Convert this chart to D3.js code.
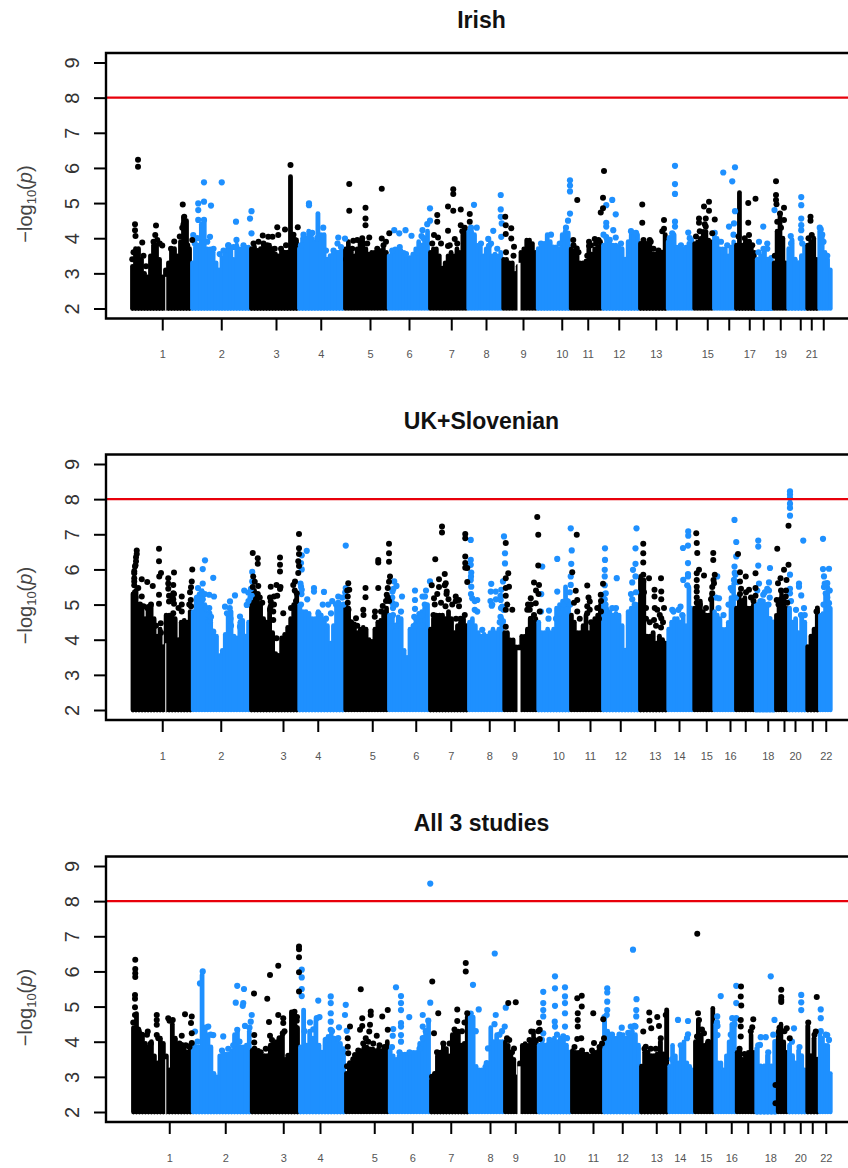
<!DOCTYPE html>
<html>
<head>
<meta charset="utf-8">
<script src="https://cdnjs.cloudflare.com/ajax/libs/d3/7.8.5/d3.min.js"></script>
<style>
  html, body { margin: 0; padding: 0; background: #fff; }
  svg { display: block; }
  text { font-family: "Liberation Sans", Arial, sans-serif; }
</style>
</head>
<body>
<div id="chart"></div>
<script>
var yTickValues = [2, 3, 4, 5, 6, 7, 8, 9];
var threshold = 8;

// genome position (Mb) where each chromosome starts, last one is the end
var irishStarts = [0, 240, 476, 668, 852, 1027, 1192, 1345, 1485, 1623, 1755, 1884, 2032, 2143, 2249, 2328, 2416, 2499, 2567, 2625, 2701, 2749, 2803];
var ukStarts = [2, 243, 476, 669, 853, 1028, 1192, 1348, 1489, 1625, 1756, 1884, 2032, 2145, 2249, 2329, 2416, 2495, 2576, 2628, 2701, 2752, 2803];
var allStarts = [0, 239, 475, 668, 852, 1027, 1192, 1347, 1488, 1623, 1756, 1884, 2032, 2145, 2248, 2329, 2415, 2493, 2579, 2624, 2697, 2747, 2799];

var irishTickPos = [125, 361, 580, 759, 956, 1112, 1281, 1420, 1568, 1723, 1827, 1951, 2099, 2181, 2305, 2391, 2473, 2529, 2597, 2677, 2721, 2769];
var ukTickPos = [125, 359, 608, 747, 965, 1139, 1279, 1433, 1533, 1709, 1836, 1957, 2095, 2192, 2301, 2396, 2457, 2547, 2612, 2656, 2725, 2779];
var allTickPos = [149, 373, 605, 752, 969, 1121, 1275, 1432, 1533, 1708, 1844, 1961, 2097, 2191, 2295, 2397, 2463, 2553, 2608, 2673, 2721, 2775];

var irishLabels = ['1','2','3','4','5','6','7','8','9','10','11','12','13','','15','','17','','19','','21',''];
var ukLabels = ['1','2','3','4','5','6','7','8','9','10','11','12','13','14','15','16','','18','','20','','22'];
var allLabels = ['1','2','3','4','5','6','7','8','9','10','11','12','13','14','15','16','','18','','20','','22'];

// upper edge of the solid mass of SNPs, column by column inside each chromosome
var irishTops = [
  [3.2,3.7,3.7,3.4,3.0,2.9,3.5,3.8,3.8,3.4,2.9,3.1,3.3,3.7,3.7,3.5,3.9,4.6,4.5,3.7],
  [3.3,3.75,3.8,4.4,4.5,3.7,3.7,3.6,3.3,3.1,3.45,3.6,3.75,3.75,3.4,3.8,3.7,3.7,3.75,3.75],
  [3.7,3.75,3.65,3.7,3.8,3.75,3.8,3.7,3.55,3.5,3.65,3.6,3.6,5.75,4.0,3.95],
  [3.7,4.0,4.0,4.2,4.0,3.9,4.7,4.1,4.1,3.4,3.5,3.55,3.6,3.6,3.7],
  [3.7,3.9,3.6,3.5,3.7,3.9,3.9,3.7,3.55,3.6,3.6,3.65,3.65,3.7,3.6],
  [3.5,3.65,3.7,3.7,3.65,3.6,3.45,3.45,3.55,3.7,3.9,3.8,4.0,4.2],
  [3.6,3.7,3.7,3.5,3.15,3.3,3.5,3.6,3.5,3.7,3.6,4.1,4.2],
  [4.2,4.2,4.1,3.8,3.75,3.5,3.7,3.7,3.5,3.55,3.5,3.6],
  [3.4,3.4,3.3,3.3,3.0,3.2,3.6,3.7,3.95,3.95,3.85,3.6],
  [3.7,3.75,3.85,4.1,3.9,3.75,3.75,3.7,4.1,4.2,4.15],
  [3.7,3.65,3.5,3.3,3.3,3.35,3.7,3.55,3.7,3.75,3.9],
  [3.8,4.05,3.85,3.8,3.8,3.75,3.7,3.4,3.9,4.1,4.15,4.1],
  [3.85,3.9,3.85,3.85,3.55,3.55,3.6,3.6,4.1],
  [3.9,3.9,4.1,3.75,3.7,3.7,3.75,3.85,3.95],
  [3.85,3.9,4.0,4.2,4.2,3.95,3.9],
  [4.05,4.0,3.7,3.7,3.7,3.5,3.75,3.9],
  [3.8,5.3,3.8,3.9,3.8,3.75,3.6],
  [3.4,3.5,3.6,3.4,3.45],
  [3.3,4.2,4.7,4.0,3.3],
  [3.7,3.95,3.4,3.3,3.5,3.8],
  [3.8,3.9,4.0,3.4],
  [4.2,4.1,3.6,3.4,3.1]
];
var irishBlack = [
  [28,6.23],[28,6.03],[16,4.4],[16,4.23],[18,4.06],[45,3.88],[100,4.36],[97,4.09],[125,3.79],[173,3.91],[207,4.96],[213,4.61],[245,3.95],
  [5,3.4],[10,3.6],[50,3.5],[60,3.2],[90,3.9],[105,3.95],[115,3.85],[160,3.7],[195,4.05],[205,4.3],[210,4.4],[225,3.8],
  [638,6.08],[527,4.08],[549,4.04],[566,4.04],[585,4.31],[589,4.09],[616,4.25],[667,4.31],
  [490,3.85],[510,3.9],[530,3.85],[545,3.8],[575,3.7],[600,3.7],[620,3.8],[650,4.1],[655,3.95],
  [873,5.54],[873,4.78],[938,4.87],[938,4.56],[938,4.37],[1003,5.41],[1033,4.14],[889,3.93],[953,4.02],[1003,3.99],[1020,3.9],
  [860,3.4],[885,3.7],[905,3.95],[925,4.0],[945,3.85],[985,3.7],[1010,3.8],
  [1289,5.39],[1289,5.26],[1268,4.9],[1289,4.78],[1319,4.82],[1225,4.66],[1225,4.47],[1355,4.69],[1355,4.47],[1268,4.21],[1212,4.09],[1228,4.02],[1295,3.98],[1268,3.78],[1319,4.37],
  [1205,3.85],[1240,3.85],[1275,3.8],[1305,3.85],[1325,4.2],[1335,4.3],
  [1497,4.61],[1499,4.37],[1499,4.12],[1521,4.28],[1521,3.99],[1532,3.76],[1500,3.6],[1530,3.5],
  [1769,3.95],[1785,5.09],[1892,5.91],[1888,5.15],[1879,4.73],[1888,4.85],[1855,3.98],[1832,3.9],[1832,3.78],[1783,3.71],[1825,3.5],
  [1770,3.8],[1790,3.6],[1840,3.8],[1860,3.85],[1870,3.95],
  [2045,4.96],[2045,4.44],[2132,4.52],[2132,4.27],[2079,3.9],[2050,3.95],[2075,3.95],[2090,3.7],[2110,3.65],[2125,4.2],
  [2312,5.04],[2292,4.9],[2312,4.78],[2272,4.56],[2299,4.56],[2272,4.44],[2335,4.53],[2299,4.33],[2325,4.14],[2260,4.05],[2275,4.2],[2295,4.4],
  [2469,5.0],[2498,5.12],[2469,4.44],[2472,4.09],[2472,3.9],[2430,4.05],[2455,4.0],[2485,3.8],
  [2580,5.62],[2580,5.23],[2580,5.09],[2582,4.97],[2596,4.7],[2612,4.87],[2585,4.47],[2612,4.52],[2575,3.5],[2600,4.3],
  [2718,4.61],[2718,4.5],[2723,4.09],[2710,4.0]
];
var irishBlue = [
  [292,5.59],[363,5.59],[269,4.99],[292,5.04],[320,4.93],[269,4.8],[292,4.52],[269,4.52],[316,4.04],[249,4.09],[482,4.77],[476,4.56],[482,4.14],[420,4.47],[422,3.95],[389,3.8],
  [255,3.85],[265,4.0],[305,3.9],[330,3.7],[355,3.55],[370,3.65],[390,3.8],[410,3.75],[450,3.8],
  [712,4.99],[712,4.94],[829,4.02],[856,3.99],[826,3.85],[769,4.3],
  [680,3.8],[690,4.1],[725,4.15],[745,4.0],[780,3.65],[810,3.65],[840,3.75],
  [1053,4.23],[1073,4.14],[1098,4.23],[1122,4.07],[1166,4.23],[1162,4.06],[1196,4.85],[1196,4.5],[1158,3.78],
  [1045,3.65],[1075,3.75],[1100,3.55],[1145,3.6],[1170,4.0],[1185,4.4],
  [1372,4.95],[1383,4.3],[1479,5.23],[1479,4.82],[1479,4.61],[1483,4.42],[1481,4.04],[1449,4.21],[1429,3.98],[1432,3.78],
  [1360,4.3],[1400,3.85],[1440,3.85],[1465,3.7],
  [1756,5.65],[1756,5.5],[1756,5.33],[1756,4.7],[1748,4.5],[1640,3.85],[1680,4.1],[1715,3.85],[1740,4.3],
  [1925,5.09],[1901,4.94],[1939,4.68],[1901,4.44],[1901,4.33],[1929,4.23],[1939,4.02],[1901,4.02],
  [1890,4.1],[1915,3.95],[1960,3.85],[2000,4.2],[2020,4.15],
  [2176,6.06],[2176,5.54],[2176,5.26],[2176,4.47],[2176,4.33],[2229,4.16],[2165,4.14],[2155,4.0],[2200,3.8],[2235,4.0],
  [2369,5.87],[2405,5.62],[2416,6.02],[2416,4.77],[2392,4.33],[2412,4.42],[2335,4.15],[2360,3.9],[2385,3.8],[2410,4.1],
  [2529,4.33],[2512,3.9],[2545,3.85],[2545,3.7],[2510,3.6],[2530,3.7],
  [2681,5.17],[2681,4.94],[2681,4.56],[2681,4.37],[2681,4.23],[2679,3.99],[2639,4.06],[2574,4.8],[2640,3.85],[2685,3.85],
  [2759,4.25],[2765,4.1],[2755,4.3],[2770,3.9],[2785,3.5]
];

var ukTops = [
  [5.3,5.4,5.0,4.9,4.6,4.95,4.95,4.6,4.1,4.3,3.8,4.7,4.7,4.7,4.6,4.0,4.5,4.55,4.5,4.8],
  [4.8,5.2,5.3,5.4,5.0,4.6,4.5,4.15,4.1,3.55,3.7,4.15,4.7,4.8,4.1,4.05,4.5,4.55,4.1,4.5],
  [5.3,5.4,5.1,5.0,4.6,4.5,4.9,4.2,3.6,3.55,4.05,4.15,4.35,4.6,5.0,5.3],
  [5.0,4.8,4.8,4.75,4.6,4.6,4.8,4.7,4.5,4.4,3.9,4.4,5.0,5.0,4.9],
  [5.0,4.9,4.5,4.45,4.2,4.3,4.35,4.3,4.0,3.95,4.3,4.5,4.55,4.8,4.9],
  [4.7,4.7,4.4,4.65,4.6,3.7,3.5,4.3,4.4,4.5,4.75,4.8,4.9,5.0],
  [4.3,4.6,4.7,4.7,4.7,4.6,4.8,4.6,4.2,4.4,4.5,4.6,4.4],
  [4.5,4.6,4.4,4.2,4.1,4.15,4.1,4.2,4.3,4.2,4.3,4.6],
  [4.2,4.2,4.0,4.0,3.8,3.8,4.1,4.1,4.3,4.6,4.5,4.6],
  [4.5,4.2,4.2,4.3,4.2,4.3,4.9,5.0,5.1,5.5,5.1],
  [4.7,4.5,4.2,4.2,4.4,4.7,4.2,4.5,4.6,4.7,5.0],
  [5.3,4.9,4.8,4.7,4.75,4.7,4.4,3.7,4.8,4.9,5.0,5.0],
  [5.8,5.7,4.1,4.1,4.2,3.9,4.1,4.0,3.9],
  [4.3,4.5,4.6,4.6,4.5,4.7,4.4,5.5,4.9],
  [4.9,5.0,5.1,4.8,4.7,4.7,5.3],
  [4.8,4.7,4.6,4.3,4.3,4.5,5.2,5.6],
  [4.9,5.2,5.1,5.2,4.9,4.9,5.0],
  [5.0,5.1,5.1,5.0,4.6,4.5],
  [4.7,5.0,5.4,5.2,4.9],
  [4.9,4.5,4.6,4.2,4.7,4.5],
  [3.8,4.1,4.3,4.9],
  [4.7,4.75,5.3,5.5,4.9]
];
var ukBlack = [
  [23,6.54],[23,6.44],[20,6.23],[16,6.08],[13,5.89],[13,5.75],[13,5.66],[43,5.72],[65,5.64],[87,5.53],[29,5.47],[112,6.59],[112,6.23],[120,5.9],[113,5.8],[149,5.75],[172,5.91],[149,5.6],[169,5.56],[169,5.32],[112,5.28],[112,5.02],[152,5.09],[172,5.02],[203,5.23],[203,5.0],[169,4.75],[119,4.47],[245,6.0],[243,5.66],[240,5.49],[239,5.13],[43,5.23],
  [13,5.95],[13,5.55],[16,5.35],[18,5.2],[20,6.35],[18,6.12],[36,5.0],[50,4.95],[65,4.9],[80,5.0],[100,4.4],[120,4.2],[149,5.45],[152,5.25],[165,5.2],[172,5.3],[169,5.15],[190,4.9],[203,4.8],[236,5.35],[233,5.0],[240,4.95],
  [487,6.47],[507,6.32],[507,6.16],[489,5.8],[509,5.53],[559,5.51],[596,6.34],[596,6.13],[596,5.94],[596,5.44],[582,5.56],[572,5.23],[559,5.09],[556,4.85],[569,4.56],[609,4.75],[582,4.04],[672,7.01],[672,6.6],[672,6.44],[669,6.23],[656,5.66],[649,5.56],[663,5.32],
  [487,5.5],[495,5.65],[507,5.3],[500,5.15],[515,5.2],[525,5.05],[556,5.2],[559,4.95],[569,4.8],[572,5.0],[585,5.25],[598,5.5],[640,4.9],[655,5.4],[660,5.1],[669,5.9],[672,6.1],
  [869,5.61],[873,5.42],[867,5.23],[867,4.61],[938,5.47],[938,5.21],[929,4.85],[989,6.27],[989,6.2],[989,5.47],[976,4.8],[1007,4.96],[1032,6.73],[1032,6.46],[1032,6.22],[1036,5.8],[1027,5.47],[1023,5.28],[900,4.61],
  [865,5.4],[867,5.05],[870,4.85],[880,4.5],[905,4.4],[930,4.7],[975,4.65],[1000,4.8],[1020,5.1],[1027,5.2],[1032,5.65],[1032,5.1],
  [1244,7.22],[1244,7.05],[1217,6.29],[1203,5.55],[1232,5.72],[1255,5.87],[1259,5.61],[1263,5.37],[1212,5.18],[1299,5.23],[1312,5.13],[1337,7.01],[1337,6.89],[1337,6.37],[1337,6.18],[1345,6.04],[1345,5.64],
  [1215,5.0],[1225,5.3],[1232,5.5],[1240,5.05],[1255,5.55],[1262,5.3],[1258,4.95],[1270,5.15],[1285,5.0],[1299,5.1],[1312,4.95],[1318,4.6],[1300,4.6],[1210,4.7],[1335,4.7],[1337,6.05],
  [1499,6.75],[1509,5.89],[1499,5.75],[1512,5.51],[1499,5.47],[1525,4.85],[1499,4.85],[1499,4.37],[1599,5.18],[1625,7.49],[1629,6.99],[1629,6.11],[1612,5.63],[1632,5.56],[1588,5.0],[1585,4.85],[1619,5.04],
  [1499,5.25],[1505,5.0],[1595,4.85],[1600,5.0],[1612,4.7],[1620,5.4],[1630,5.3],[1635,4.8],[1600,4.6],
  [1783,6.99],[1765,5.92],[1779,5.39],[1785,5.13],[1825,5.54],[1835,5.09],[1825,4.75],[1879,5.28],[1888,5.59],
  [1772,5.05],[1785,4.8],[1830,5.2],[1835,4.85],[1825,4.95],[1795,4.6],[1865,4.9],[1880,5.1],[1880,4.8],[1872,4.6],[1840,4.5],
  [2049,6.73],[2049,6.46],[2049,6.2],[2049,5.85],[2072,5.75],[2120,5.75],[2094,5.42],[2121,5.37],[2094,5.23],[2121,5.15],[2092,4.56],[2132,4.9],[2121,4.61],[2105,4.85],
  [2045,5.5],[2049,5.65],[2052,5.35],[2060,4.6],[2060,4.9],[2075,4.5],[2095,4.9],[2100,4.4],[2120,4.35],[2128,4.5],[2115,4.7],
  [2261,7.03],[2263,6.75],[2265,6.47],[2272,5.99],[2263,5.89],[2292,5.83],[2263,5.7],[2263,5.51],[2263,5.37],[2329,6.47],[2329,6.27],[2335,5.85],[2332,5.61],[2325,5.32],
  [2263,5.2],[2263,5.05],[2275,5.0],[2300,4.9],[2320,5.15],[2325,5.5],[2330,5.7],
  [2428,6.44],[2436,5.92],[2459,5.8],[2436,5.66],[2498,5.89],[2498,5.47],[2472,5.42],
  [2436,5.3],[2447,5.1],[2440,5.45],[2460,5.35],[2480,5.2],[2490,5.1],[2498,5.25],
  [2630,7.24],[2585,6.59],[2630,6.13],[2612,5.99],[2598,5.75],[2588,5.61],[2583,5.13],[2622,5.7],[2619,5.23],[2742,4.8],
  [2590,5.0],[2600,5.15],[2610,5.1],[2620,5.4],[2625,5.05],[2600,5.4]
];
var ukBlue = [
  [296,6.26],[287,6.01],[329,5.76],[268,5.47],[287,5.6],[313,5.28],[332,5.23],[313,4.9],[313,4.75],[316,4.56],[329,4.23],[416,5.26],[396,5.09],[376,4.94],[453,5.4],[469,5.34],[485,5.93],[485,5.66],[463,4.99],[436,4.66],[436,4.37],
  [265,5.2],[275,5.1],[283,5.35],[287,5.15],[295,5.3],[300,4.9],[310,4.7],[320,4.65],[395,4.9],[398,4.6],[384,4.75],[400,4.4],[440,4.5],[440,4.3],[470,5.1],[478,5.2],[480,5.45],[483,5.25],
  [683,6.4],[680,6.18],[683,6.0],[703,6.53],[680,5.51],[683,5.42],[705,5.15],[732,5.47],[732,5.37],[772,5.36],[859,6.68],[859,5.47],[859,5.23],[767,5.0],[789,5.0],[829,5.23],
  [678,5.6],[682,5.3],[680,5.0],[805,5.1],[820,5.0],[829,5.05],[835,4.9],[845,5.2],[850,5.0],[857,5.35],[800,4.75],[780,4.6],[750,4.75],
  [1053,5.66],[1062,5.53],[1046,5.37],[1046,5.04],[1084,5.23],[1136,5.4],[1136,5.13],[1136,4.88],[1166,5.23],[1162,4.68],[1042,4.37],[1196,5.66],[1176,5.23],
  [1045,5.2],[1050,5.45],[1060,5.0],[1048,4.9],[1048,4.7],[1060,4.4],[1080,4.8],[1133,4.65],[1136,4.4],[1140,4.6],[1165,4.4],[1175,5.0],[1180,5.4],
  [1359,6.84],[1359,6.27],[1359,6.13],[1361,5.91],[1359,5.7],[1361,5.51],[1365,5.18],[1385,5.13],[1385,4.8],
  [1441,5.59],[1439,5.37],[1459,5.37],[1443,4.97],[1481,5.42],[1488,5.66],[1479,5.13],[1492,6.94],[1496,6.46],[1496,6.17],[1485,4.94],[1488,4.52],[1405,4.28],
  [1360,5.8],[1360,5.3],[1375,5.1],[1375,4.85],[1438,5.1],[1445,5.0],[1460,5.15],[1478,5.25],[1480,4.9],[1478,4.65],[1490,4.85],[1475,4.5],
  [1645,6.08],[1641,5.3],[1672,4.83],[1705,6.3],[1705,5.37],[1708,4.83],[1759,7.17],[1763,6.54],[1761,6.16],[1759,5.8],[1759,5.56],
  [1670,4.6],[1640,4.8],[1700,4.6],[1715,4.75],[1730,5.0],[1745,5.1],[1755,5.35],[1757,5.0],[1745,4.85],
  [1896,6.6],[1896,6.27],[1895,5.99],[1895,5.8],[1943,5.75],[2022,7.17],[2018,6.6],[2018,6.16],[2008,5.99],[2005,5.63],[2018,5.8],[1899,5.32],
  [1895,5.55],[1895,5.15],[1898,5.0],[1940,4.9],[1945,4.65],[2000,5.3],[2005,5.15],[2015,5.0],[2020,5.35],[1925,4.9],
  [2229,7.08],[2229,6.96],[2208,6.61],[2228,6.68],[2228,6.18],[2228,5.87],[2209,5.7],[2165,4.85],[2198,4.94],
  [2170,4.8],[2190,4.85],[2225,5.55],[2228,5.8],[2205,4.7],
  [2414,7.41],[2421,6.78],[2421,6.37],[2414,6.08],[2418,5.85],[2425,5.64],[2345,5.8],[2399,5.47],[2352,5.18],
  [2340,5.2],[2350,4.9],[2370,4.7],[2390,5.0],[2405,5.4],[2412,5.7],[2420,5.2],[2415,5.9],
  [2509,6.82],[2509,6.65],[2509,6.11],[2556,6.04],[2552,5.63],[2552,5.4],[2529,5.28],
  [2505,5.4],[2512,5.6],[2520,5.1],[2535,5.35],[2550,5.0],[2555,5.2],[2545,5.45],
  [2636,8.22],[2636,8.13],[2636,8.03],[2636,7.87],[2636,7.75],[2636,7.53],[2689,6.82],[2636,5.85],[2672,5.6],[2672,5.51],[2681,5.26],[2636,5.32],[2692,4.9],
  [2636,5.45],[2640,5.1],[2660,4.85],[2680,4.7],[2695,4.7],
  [2768,6.87],[2768,6.01],[2792,6.02],[2772,5.8],[2785,5.61],[2779,5.32],[2792,5.04],
  [2772,5.5],[2775,5.6],[2785,5.2],[2795,5.4],[2790,4.9],[2770,5.0]
];

var allTops = [
  [4.4,4.8,4.3,4.2,3.95,3.85,4.0,3.6,3.4,4.1,3.95,3.6,3.2,4.5,4.1,3.9,3.85,3.85,3.7,3.9],
  [3.85,3.85,3.85,5.9,4.3,4.2,3.85,3.1,3.0,3.6,3.7,3.65,3.65,3.75,4.2,4.3,3.85,3.85,3.9,4.3],
  [3.75,3.75,3.75,3.6,3.6,3.6,3.9,3.95,4.0,4.0,4.2,3.5,3.5,4.85,4.85,4.4],
  [3.85,4.9,3.9,4.3,4.1,4.6,3.9,3.7,4.0,4.15,4.2,4.1,4.0,3.95,3.8],
  [3.1,3.3,3.4,3.6,3.65,3.75,3.85,3.85,3.8,3.8,3.75,3.8,3.75,3.8,4.0],
  [3.75,3.6,3.5,3.6,3.65,3.65,3.65,3.7,3.7,3.7,3.95,4.1,4.3,4.6],
  [2.9,3.1,3.6,3.7,3.9,3.8,3.6,4.2,4.3,4.3,3.9,3.95,4.7],
  [4.7,4.7,3.3,3.2,3.2,3.3,3.3,4.4,4.0,4.2,4.0,4.0],
  [4.0,3.9,3.6,3.5,3.0,3.4,3.9,3.95,3.9,4.0,4.3,4.0],
  [3.9,3.95,3.9,3.95,3.95,4.1,4.0,4.1,4.1,3.9,3.7],
  [3.75,3.7,3.7,3.7,3.65,3.65,3.6,3.65,3.7,3.75,3.9],
  [4.6,4.3,4.1,4.1,4.1,4.2,4.2,4.1,4.2,4.3,4.2,3.9],
  [3.3,3.7,3.7,3.6,3.6,3.65,4.0,3.65,4.9],
  [3.3,3.9,3.6,3.4,3.85,4.0,3.4,3.3,3.2],
  [4.0,4.6,4.2,3.9,3.95,3.95,4.95],
  [4.5,3.4,3.4,3.2,3.6,4.0,4.5,4.6],
  [3.7,3.8,3.5,3.6,3.7,4.2,3.7],
  [3.8,3.3,3.3,3.6,3.3,4.0],
  [4.3,4.5,4.0,3.7],
  [3.9,3.6,3.4,3.75,3.6,3.2],
  [4.45,3.6,4.1,3.5],
  [4.2,4.1,3.9,3.9,3.1]
];
var allBlack = [
  [13,6.33],[13,6.07],[13,5.95],[13,5.84],[12,5.33],[12,5.22],[12,4.98],[12,4.76],[63,4.29],[99,4.76],[99,4.62],[99,4.48],[99,4.19],[145,4.67],[163,4.62],[212,4.78],[239,4.72],[236,4.53],[239,4.24],[239,3.96],[199,4.17],[199,3.91],
  [5,4.55],[25,4.35],[40,4.2],[60,4.2],[75,3.95],[105,4.1],[120,3.9],[150,4.6],[170,4.05],[190,3.95],[215,3.9],[230,3.85],
  [488,5.37],[552,5.9],[585,6.16],[541,5.22],[585,4.76],[605,4.67],[605,4.53],[548,4.56],[489,4.19],[489,3.98],[552,4.17],[603,4.24],[668,6.71],[668,6.63],[668,6.4],[668,5.98],[668,5.43],[659,4.6],[652,4.43],
  [490,3.8],[515,3.7],[535,3.8],[560,4.05],[590,4.1],[610,4.3],[625,3.6],[650,4.85],[660,4.7],
  [863,4.1],[863,3.86],[865,3.67],[872,4.43],[915,5.49],[955,4.86],[955,4.76],[921,4.67],[921,4.45],[952,4.48],[949,4.29],[912,4.34],[1001,4.72],[1023,4.9],[1023,4.34],[979,4.17],[935,4.1],[892,3.62],[872,3.39],
  [860,3.3],[885,3.5],[905,3.75],[925,3.95],[945,4.0],[965,3.95],[990,3.9],[1010,3.85],
  [1201,5.71],[1225,4.81],[1301,4.92],[1301,4.59],[1335,6.24],[1335,6.0],[1341,4.81],[1208,4.24],
  [1200,3.0],[1220,3.7],[1245,3.95],[1270,3.95],[1290,4.35],[1320,4.3],[1330,4.55],
  [1505,5.1],[1535,5.12],[1509,4.05],[1528,3.81],[1597,4.29],[1628,4.54],[1631,4.34],[1631,4.08],
  [1500,4.1],[1520,3.7],[1590,4.05],[1610,4.05],[1625,4.3],
  [1781,5.24],[1799,5.31],[1799,5.0],[1783,4.81],[1783,4.62],[1783,4.43],[1781,4.08],[1797,4.1],[1845,4.81],[1848,3.96],[1885,4.64],[1888,4.1],
  [1770,3.85],[1800,3.75],[1840,3.75],[1870,3.85],[1880,3.95],
  [2069,4.83],[2070,4.6],[2045,4.29],[2077,4.38],[2101,4.7],[2108,4.45],[2135,4.76],[2055,3.86],[2050,3.8],[2075,3.8],[2095,3.8],[2115,4.1],
  [2261,7.07],[2264,4.81],[2268,4.62],[2288,4.24],[2260,4.15],[2280,4.35],[2305,4.0],
  [2436,5.57],[2435,5.29],[2437,5.03],[2435,4.62],[2435,4.43],[2435,4.15],[2485,4.64],[2481,4.41],[2430,3.8],[2450,3.65],[2475,4.3],
  [2597,5.48],[2597,5.27],[2597,5.19],[2597,5.13],[2619,4.38],[2631,4.1],[2574,2.77],[2574,2.25],[2590,4.4],[2610,4.3],
  [2739,5.27],[2735,4.29],[2705,4.55],[2730,4.2]
];
var allBlue = [
  [283,6.0],[272,5.66],[252,4.29],[305,4.43],[325,4.19],[365,4.15],[421,5.59],[448,5.5],[415,5.11],[445,5.1],[443,5.02],[421,4.34],[452,4.45],[479,4.76],[475,4.57],
  [245,3.9],[262,4.0],[295,4.4],[315,4.2],[360,3.75],[385,3.8],[405,3.9],[430,4.0],[470,4.4],
  [679,6.05],[679,5.83],[679,5.5],[679,5.3],[745,5.17],[795,5.29],[795,5.1],[795,4.81],[795,4.57],[795,4.34],[712,4.55],[739,4.67],[855,5.05],[852,4.76],[828,4.41],[859,4.31],
  [690,4.3],[725,4.35],[750,4.7],[775,4.05],[800,4.3],[825,4.1],
  [1056,5.55],[1076,5.3],[1076,5.1],[1076,4.9],[1076,4.53],[1076,4.43],[1076,4.19],[1076,4.0],[1045,4.36],[1043,4.17],[1109,4.7],[1163,4.76],[1163,4.43],[1163,4.1],[1193,5.11],[1193,8.5],
  [1040,3.85],[1070,3.7],[1110,3.7],[1150,3.8],[1175,4.3],[1185,4.6],
  [1364,5.62],[1387,4.92],[1451,6.51],[1455,4.76],[1495,4.97],[1491,4.43],[1424,3.81],[1419,3.39],
  [1355,4.8],[1375,4.3],[1450,4.5],[1470,4.2],[1480,4.3],
  [1692,5.86],[1692,5.52],[1692,5.02],[1645,5.42],[1645,5.1],[1645,4.9],[1645,4.72],[1691,4.57],[1692,4.43],[1732,5.55],[1732,5.29],[1732,5.1],[1732,4.81],[1732,4.43],[1645,4.24],
  [1640,4.05],[1670,4.05],[1700,4.2],[1725,4.15],[1740,4.1],
  [1901,5.52],[1901,5.4],[1901,5.14],[1901,4.9],[1899,4.76],[1959,4.4],[2004,6.62],[2018,5.21],[2017,4.9],[2017,4.72],[2014,4.43],[1995,4.43],
  [1890,4.7],[1920,4.2],[1950,4.2],[1985,4.25],[2010,4.45],
  [2184,4.62],[2224,4.59],[2224,4.21],[2160,3.5],[2195,3.9],[2220,4.1],
  [2355,5.3],[2341,4.72],[2342,4.45],[2342,4.19],[2417,5.59],[2417,5.1],[2417,4.67],[2401,4.67],[2340,4.55],[2395,4.2],[2410,4.5],
  [2555,5.86],[2570,4.62],[2515,4.13],[2535,4.13],[2512,3.91],[2505,3.9],[2545,3.7],[2565,4.2],
  [2677,5.33],[2677,5.12],[2677,4.9],[2648,4.38],[2640,4.0],[2670,3.85],
  [2755,4.92],[2755,4.67],[2781,4.19],[2788,4.05],[2755,4.3],[2775,4.2]
];

// white slits at the centromeres: position and how high they reach
var irishGapPos = [139, 1552], irishGapTop = [2.9, 3.3];
var ukGapPos = [139, 1552], ukGapTop = [3.9, 3.7];
var allGapPos = [135, 1548], allGapTop = [3.5, 3.3];

var width = 848, height = 1168;
var svg = d3.select('#chart').append('svg').attr('width', width).attr('height', height);

function drawPanel(title, titleY, y2, y9, xLeft, starts, tops, black, blue, tickPos, labels, gapPos, gapTop) {
  var x = d3.scaleLinear().domain([0, 2800]).range([xLeft, xLeft + 700]);
  var y = d3.scaleLinear().domain([2, 9]).range([y2, y9]);
  var boxTop = y9 - 9.5, boxBottom = y2 + 10;
  var g = svg.append('g');

  // solid mass, one stroked column per reading, alternating colours
  tops.forEach(function (col, c) {
    var step = (starts[c + 1] - starts[c]) / col.length;
    g.append('g').selectAll('line')
      .data(col)
      .enter()
      .append('line')
      .attr('x1', function (d, i) { return x(starts[c] + (i + 0.5) * step); })
      .attr('x2', function (d, i) { return x(starts[c] + (i + 0.5) * step); })
      .attr('y1', y(2))
      .attr('y2', function (d) { return y(d); })
      .attr('stroke', c % 2 ? '#1e90ff' : '#000')
      .attr('stroke-width', x(step) - x(0) + 1.8)
      .attr('stroke-linecap', 'round');
  });

  g.selectAll('line.gap')
    .data(gapPos)
    .enter()
    .append('line')
    .attr('class', 'gap')
    .attr('x1', function (d) { return x(d); })
    .attr('x2', function (d) { return x(d); })
    .attr('y1', y(2) + 4)
    .attr('y2', function (d, i) { return y(gapTop[i]); })
    .attr('stroke', '#fff')
    .attr('stroke-width', function (d, i) { return i === 0 ? 1 : 3; });

  g.selectAll('circle.blue')
    .data(blue)
    .enter()
    .append('circle')
    .attr('class', 'blue')
    .attr('cx', function (d) { return x(d[0]); })
    .attr('cy', function (d) { return y(d[1]); })
    .attr('r', 3.1)
    .attr('fill', '#1e90ff');

  g.selectAll('circle.black')
    .data(black)
    .enter()
    .append('circle')
    .attr('class', 'black')
    .attr('cx', function (d) { return x(d[0]); })
    .attr('cy', function (d) { return y(d[1]); })
    .attr('r', 3)
    .attr('fill', '#000');

  // threshold
  g.append('line')
    .attr('x1', 106).attr('x2', width)
    .attr('y1', y(threshold)).attr('y2', y(threshold))
    .attr('stroke', '#e8000b')
    .attr('stroke-width', 2.4);

  // box has no right side, it runs off the page
  g.append('path')
    .attr('d', 'M' + width + ',' + boxTop + 'H106V' + boxBottom + 'H' + width)
    .attr('fill', 'none')
    .attr('stroke', '#000')
    .attr('stroke-width', 2.4);

  var yAxis = d3.axisLeft(y).tickValues(yTickValues).tickSize(12).tickPadding(7)
    .tickFormat(d3.format('d'));
  var yg = g.append('g').attr('transform', 'translate(106,0)').call(yAxis);
  yg.select('.domain').remove();
  yg.selectAll('line').attr('stroke', '#000').attr('stroke-width', 2);
  yg.selectAll('text')
    .attr('font-size', 20)
    .attr('fill', '#333')
    .attr('text-anchor', 'middle')
    .attr('x', 0)
    .attr('y', 0)
    .attr('dy', 0)
    .attr('transform', 'translate(-27,0) rotate(-90)');

  var xAxis = d3.axisBottom(x).tickValues(tickPos).tickSize(12).tickPadding(20)
    .tickFormat(function (d, i) { return labels[i]; });
  var xg = g.append('g').attr('transform', 'translate(0,' + boxBottom + ')').call(xAxis);
  xg.select('.domain').remove();
  xg.selectAll('line').attr('stroke', '#000').attr('stroke-width', 2);
  xg.selectAll('text').attr('font-size', 11).attr('fill', '#555');

  g.append('text')
    .attr('x', 481.5).attr('y', titleY)
    .attr('text-anchor', 'middle')
    .attr('font-size', 23)
    .attr('font-weight', 'bold')
    .attr('fill', '#111')
    .text(title);

  var label = g.append('text')
    .attr('transform', 'translate(32,' + (y(5) + 1) + ') rotate(-90)')
    .attr('text-anchor', 'middle')
    .attr('font-size', 20)
    .attr('fill', '#444');
  label.append('tspan').text('\u2212log');
  label.append('tspan').attr('font-size', 13).attr('dy', 4).text('10');
  label.append('tspan').attr('dy', -4).text('(');
  label.append('tspan').attr('font-style', 'italic').text('p');
  label.append('tspan').text(')');
}

drawPanel('Irish', 28, 308.5, 62.5, 131, irishStarts, irishTops, irishBlack, irishBlue, irishTickPos, irishLabels, irishGapPos, irishGapTop);
drawPanel('UK+Slovenian', 429, 710, 464, 131, ukStarts, ukTops, ukBlack, ukBlue, ukTickPos, ukLabels, ukGapPos, ukGapTop);
drawPanel('All 3 studies', 831, 1112, 866, 132, allStarts, allTops, allBlack, allBlue, allTickPos, allLabels, allGapPos, allGapTop);
</script>
</body>
</html>
